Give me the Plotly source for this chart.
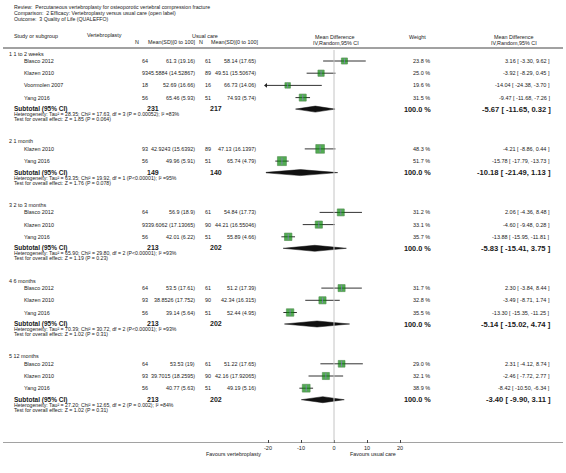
import math
import plotly.graph_objects as go

# ---------------- data ----------------
review_lines = [
    "Review:  Percutaneous vertebroplasty for osteoporotic vertebral compression fracture",
    "Comparison:  2 Efficacy: Vertebroplasty versus usual care (open label)",
    "Outcome:  3 Quality of Life (QUALEFFO)",
]
groups = ["1 1 to 2 weeks", "2 1 month", "3 2 to 3 months", "4 6 months", "5 12 months"]

study_group = [0, 0, 0, 0, 1, 1, 2, 2, 2, 3, 3, 3, 4, 4, 4]
study_names = ["Blasco 2012", "Klazen 2010", "Voormolen 2007", "Yang 2016",
               "Klazen 2010", "Yang 2016",
               "Blasco 2012", "Klazen 2010", "Yang 2016",
               "Blasco 2012", "Klazen 2010", "Yang 2016",
               "Blasco 2012", "Klazen 2010", "Yang 2016"]
n_vert = [64, 93, 18, 56, 93, 56, 64, 93, 56, 64, 93, 56, 64, 93, 56]
mean_vert = [61.3, 45.5884, 52.69, 65.46, 42.9243, 49.96, 56.9, 39.6062, 42.01,
             53.5, 38.8526, 39.14, 53.53, 39.7015, 40.77]
sd_vert = [19.16, 14.52867, 16.66, 5.93, 15.6392, 5.91, 18.9, 17.13065, 6.22,
           17.61, 17.752, 5.64, 19, 18.2595, 5.63]
n_usual = [61, 89, 16, 51, 89, 51, 61, 90, 51, 61, 90, 51, 61, 90, 51]
mean_usual = [58.14, 49.51, 66.73, 74.93, 47.13, 65.74, 54.84, 44.21, 55.89,
              51.2, 42.34, 52.44, 51.22, 42.16, 49.19]
sd_usual = [17.65, 15.50674, 14.06, 5.74, 16.1397, 4.79, 17.73, 16.55046, 4.66,
            17.39, 16.315, 4.95, 17.65, 17.92065, 5.16]
weight = [23.8, 25.0, 19.6, 31.5, 48.3, 51.7, 31.2, 33.1, 35.7, 31.7, 32.8, 35.5,
          29.0, 32.1, 38.9]
md = [3.16, -3.92, -14.04, -9.47, -4.21, -15.78, 2.06, -4.60, -13.88, 2.30, -3.49,
      -13.30, 2.31, -2.46, -8.42]
ci_lo = [-3.30, -8.29, -24.38, -11.68, -8.86, -17.79, -4.36, -9.48, -15.95, -3.84,
         -8.71, -15.35, -4.12, -7.72, -10.50]
ci_hi = [9.62, 0.45, -3.70, -7.26, 0.44, -13.73, 8.48, 0.28, -11.81, 8.44, 1.74,
         -11.25, 8.74, 2.77, -6.34]

sub_n_vert = [231, 149, 213, 213, 213]
sub_n_usual = [217, 140, 202, 202, 202]
sub_md = [-5.67, -10.18, -5.83, -5.14, -3.40]
sub_lo = [-11.65, -21.49, -15.41, -15.02, -9.90]
sub_hi = [0.32, 1.13, 3.75, 4.74, 3.11]
het_tau2 = [28.35, 63.35, 65.90, 70.39, 27.20]
het_chi2 = [17.63, 19.92, 29.80, 30.72, 12.65]
het_df = [3, 1, 2, 2, 2]
het_p = [" = 0.00052", "<0.00001", "<0.00001", "<0.00001", " = 0.002"]
het_i2 = [83, 95, 93, 93, 84]
z_val = [1.85, 1.76, 1.19, 1.02, 1.02]
z_p = ["0.064", "0.078", "0.23", "0.31", "0.31"]

tick_vals = [-20, -10, 0, 10, 20]
favours_left = "Favours vertebroplasty"
favours_right = "Favours usual care"

# ---------------- layout helpers ----------------
W, H = 566, 473
X0_PX, PX_PER = 334.0, 3.3           # pixel of 0 and pixels per unit
AXIS_Y = 443
CLIP = -20.6
FONT = "Liberation Sans"
TXT = "#1a1a1a"
FS = 5.4


def px(p):
    return (p - X0_PX) / PX_PER


# row positions (pixels from top)
rows_y = [0.0] * len(study_names)
group_y, sub_y = [], []
cur = 53.5
for g in range(len(groups)):
    group_y.append(cur)
    r = cur + 7.5
    last = r
    for i, sg in enumerate(study_group):
        if sg == g:
            rows_y[i] = r
            last = r
            r += 12.2
    s = last + 11.5
    sub_y.append(s)
    cur = s + 10 + 22.3

fig = go.Figure()
ann = []


def add_text(x_px, y_px, text, size=FS, anchor="left", bold=False, yref="y"):
    t = f"<b>{text}</b>" if bold else text
    yy = y_px if yref == "y" else (H - y_px) / H
    ann.append(dict(x=px(x_px), y=yy, xref="x", yref=yref, text=t, showarrow=False,
                    xanchor=anchor, yanchor="middle",
                    font=dict(family=FONT, size=size, color=TXT)))


# titles
for k, line in enumerate(review_lines):
    add_text(12, 6.5 + 6.3 * k, line, 5.2)

# headers
add_text(12, 36, "Study or subgroup", FS)
add_text(85, 34.5, "Vertebroplasty", FS)
add_text(190, 35.5, "Usual care", FS)
add_text(141, 41.5, "N", FS, "right")
add_text(198, 41.5, "Mean(SD)[0 to 100]", FS, "right")
add_text(205, 41.5, "N", FS, "right")
add_text(261, 41.5, "Mean(SD)[0 to 100]", FS, "right")
add_text(334, 36.5, "Mean Difference", FS, "center")
add_text(336, 42.5, "IV,Random,95% CI", FS, "center")
add_text(417, 36.5, "Weight", FS, "center")
add_text(513, 36.5, "Mean Difference", FS, "center")
add_text(514, 42.5, "IV,Random,95% CI", FS, "center")

# study rows
for i in range(len(study_names)):
    y = rows_y[i]
    add_text(22, y, study_names[i], FS)
    add_text(150, y, str(n_vert[i]), FS, "right")
    add_text(197, y, f"{mean_vert[i]} ({sd_vert[i]})", FS, "right")
    add_text(213, y, str(n_usual[i]), FS, "right")
    add_text(258, y, f"{mean_usual[i]} ({sd_usual[i]})", FS, "right")
    add_text(432, y, f"{weight[i]:.1f} %", 5.5, "right")
    add_text(552, y, f"{md[i]:.2f} [ {ci_lo[i]:.2f}, {ci_hi[i]:.2f} ]", 5.5, "right")

# groups and subtotals
for g in range(len(groups)):
    add_text(7, group_y[g], groups[g], FS)
    s = sub_y[g]
    add_text(12, s, "Subtotal (95% CI)", 6.5, bold=True)
    add_text(161, s - 0.5, str(sub_n_vert[g]), 7.0, "right", bold=True)
    add_text(224, s - 0.5, str(sub_n_usual[g]), 7.0, "right", bold=True)
    add_text(433, s, "100.0 %", 7.3, "right", bold=True)
    add_text(553, s, f"{sub_md[g]:.2f} [ {sub_lo[g]:.2f}, {sub_hi[g]:.2f} ]", 7.6, "right", bold=True)
    add_text(12, s + 5, f"Heterogeneity: Tau² = {het_tau2[g]:.2f}; Chi² = {het_chi2[g]:.2f}, "
                        f"df = {het_df[g]} (P{het_p[g]}); I² ={het_i2[g]}%", 5.2)
    add_text(12, s + 10, f"Test for overall effect: Z = {z_val[g]:.2f} (P = {z_p[g]})", 5.2)

# favours labels
add_text(233, 454, favours_left, FS, "center", yref="paper")
add_text(373, 454, favours_right, FS, "center", yref="paper")

# lines: header rule, zero line, axis line
shapes = [
    dict(type="line", xref="x", yref="y", x0=px(3), x1=px(563), y0=48, y1=48,
         line=dict(color="#444444", width=1)),
    dict(type="line", xref="x", yref="y", x0=0, x1=0, y0=50, y1=AXIS_Y,
         line=dict(color="#c4c4c4", width=1)),
    dict(type="line", xref="x", yref="y", x0=px(3), x1=px(563), y0=AXIS_Y, y1=AXIS_Y,
         line=dict(color="#444444", width=1)),
]

# CI lines
cx, cy = [], []
arrow_x, arrow_y = [], []
for i in range(len(md)):
    lo = max(ci_lo[i], CLIP)
    cx += [lo, ci_hi[i], None]
    cy += [rows_y[i], rows_y[i], None]
    if ci_lo[i] < CLIP:
        arrow_x.append(CLIP)
        arrow_y.append(rows_y[i])
fig.add_trace(go.Scatter(x=cx, y=cy, mode="lines", line=dict(color="#333333", width=1),
                         hoverinfo="skip", cliponaxis=False))
if arrow_x:
    fig.add_trace(go.Scatter(x=arrow_x, y=arrow_y, mode="markers",
                             marker=dict(symbol="triangle-left", size=4, color="#222222"),
                             hoverinfo="skip", cliponaxis=False))

# squares
fig.add_trace(go.Scatter(
    x=md, y=rows_y, mode="markers",
    marker=dict(symbol="square", size=[1.25 * math.sqrt(w) for w in weight],
                color="#0a8a0a", line=dict(color="#055a05", width=0.6)),
    hoverinfo="skip", cliponaxis=False))
fig.add_trace(go.Scatter(
    x=md, y=rows_y, mode="markers",
    marker=dict(symbol="line-ns-open", size=[0.7 * math.sqrt(w) for w in weight],
                line=dict(color="#111111", width=0.8)),
    hoverinfo="skip", cliponaxis=False))

# diamonds
HALF = 3.0
for g in range(len(groups)):
    s = sub_y[g]
    m, lo, hi = sub_md[g], sub_lo[g], sub_hi[g]
    if lo < CLIP:
        frac = (CLIP - lo) / (m - lo)
        xs = [CLIP, m, hi, m, CLIP, CLIP]
        ys = [s - HALF * frac, s - HALF, s, s + HALF, s + HALF * frac, s - HALF * frac]
    else:
        xs = [lo, m, hi, m, lo]
        ys = [s, s - HALF, s, s + HALF, s]
    fig.add_trace(go.Scatter(x=xs, y=ys, mode="lines", fill="toself",
                             fillcolor="#111111", line=dict(color="#111111", width=0.5),
                             hoverinfo="skip", cliponaxis=False))

fig.update_layout(
    width=W, height=H,
    margin=dict(l=0, r=0, t=0, b=0),
    paper_bgcolor="white", plot_bgcolor="white",
    showlegend=False,
    annotations=ann, shapes=shapes,
    xaxis=dict(range=[px(0), px(W)], domain=[0, 1], showgrid=False, zeroline=False,
               showline=False, ticks="inside", ticklen=3, tickwidth=1, tickcolor="#444444",
               tickvals=tick_vals, ticktext=[str(v) for v in tick_vals],
               tickfont=dict(family=FONT, size=5.5, color=TXT), fixedrange=True),
    yaxis=dict(range=[AXIS_Y, 0], domain=[(H - AXIS_Y) / H, 1], visible=False,
               fixedrange=True),
)

# remove the default page margin so the figure fills the window exactly
fig.write_html("out.html",
               config={"displayModeBar": False, "staticPlot": True},
               post_script="document.body.style.margin='0';document.body.style.overflow='hidden';")
